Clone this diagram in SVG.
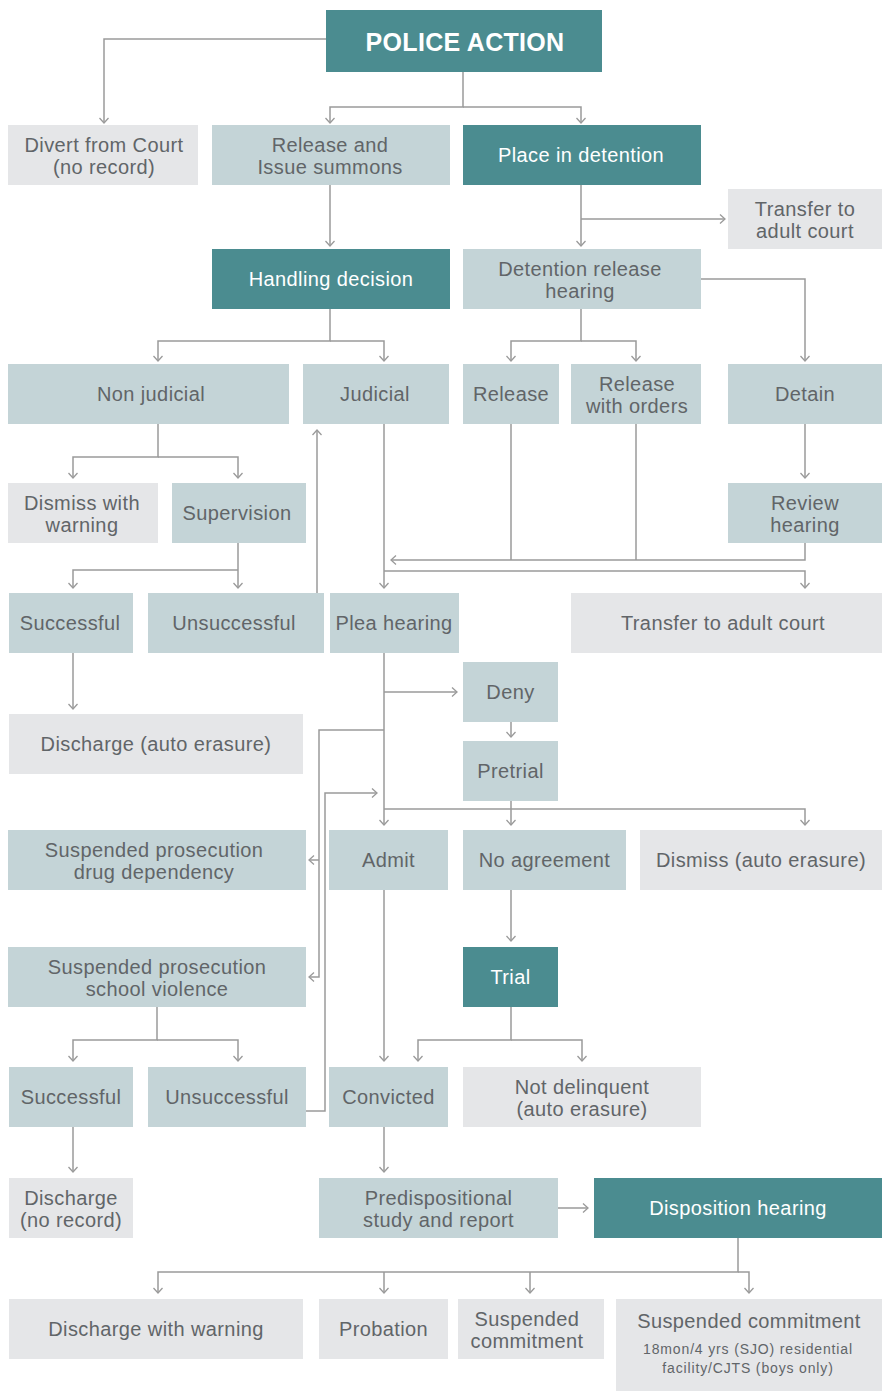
<svg xmlns="http://www.w3.org/2000/svg" width="884" height="1394" viewBox="0 0 884 1394">
<style>
.teal{fill:#4b8c90}
.blue{fill:#c4d4d7}
.gray{fill:#e5e6e8}
text{font-family:"Liberation Sans",Arial,sans-serif;font-size:20px;letter-spacing:0.4px;text-anchor:middle}
.t{fill:#616568}
.w{fill:#ffffff}
.title{font-weight:bold;font-size:25px;letter-spacing:0.3px}
.small{font-size:14px;letter-spacing:0.85px}
.c path{fill:none;stroke:#9a9a9a;stroke-width:1.5}
</style>
<defs>
<marker id="a" viewBox="0 0 10 10" refX="9" refY="5" markerWidth="10" markerHeight="10" markerUnits="userSpaceOnUse" orient="auto">
<path d="M4,0.5 L9,5 L4,9.5" fill="none" stroke="#9a9a9a" stroke-width="1.3"/>
</marker>
</defs>
<rect width="884" height="1394" fill="#ffffff"/>

<g class="c" id="connectors">
<path d="M326,39 H104 V123" marker-end="url(#a)"/>
<path d="M463,72 V107 H330 V123" marker-end="url(#a)"/>
<path d="M463,107 H581 V123" marker-end="url(#a)"/>
<path d="M330,185 V246" marker-end="url(#a)"/>
<path d="M581,185 V246" marker-end="url(#a)"/>
<path d="M581,219 H725" marker-end="url(#a)"/>
<path d="M701,279 H805 V361" marker-end="url(#a)"/>
<path d="M581,309 V341 H511 V361" marker-end="url(#a)"/>
<path d="M581,341 H636 V361" marker-end="url(#a)"/>
<path d="M330,309 V341 H158 V361" marker-end="url(#a)"/>
<path d="M330,341 H384 V361" marker-end="url(#a)"/>
<path d="M158,424 V457 H73 V478" marker-end="url(#a)"/>
<path d="M158,457 H238 V478" marker-end="url(#a)"/>
<path d="M238,543 V588" marker-end="url(#a)"/>
<path d="M238,570 H73 V588" marker-end="url(#a)"/>
<path d="M317,593 V430" marker-end="url(#a)"/>
<path d="M384,424 V588" marker-end="url(#a)"/>
<path d="M511,424 V560"/>
<path d="M636,424 V560"/>
<path d="M805,543 V560 H391" marker-end="url(#a)"/>
<path d="M384,571 H805 V588" marker-end="url(#a)"/>
<path d="M805,424 V478" marker-end="url(#a)"/>
<path d="M73,653 V709" marker-end="url(#a)"/>
<path d="M384,653 V825" marker-end="url(#a)"/>
<path d="M384,692 H457" marker-end="url(#a)"/>
<path d="M384,730 H319 V977 H309" marker-end="url(#a)"/>
<path d="M319,860 H309" marker-end="url(#a)"/>
<path d="M306,1111 H325 V793 H377" marker-end="url(#a)"/>
<path d="M384,809 H805 V825" marker-end="url(#a)"/>
<path d="M511,801 V825" marker-end="url(#a)"/>
<path d="M511,722 V737" marker-end="url(#a)"/>
<path d="M384,890 V1061" marker-end="url(#a)"/>
<path d="M511,890 V941" marker-end="url(#a)"/>
<path d="M511,1007 V1040 H418 V1061" marker-end="url(#a)"/>
<path d="M511,1040 H582 V1061" marker-end="url(#a)"/>
<path d="M157,1007 V1040 H73 V1061" marker-end="url(#a)"/>
<path d="M157,1040 H238 V1061" marker-end="url(#a)"/>
<path d="M73,1127 V1172" marker-end="url(#a)"/>
<path d="M384,1127 V1172" marker-end="url(#a)"/>
<path d="M558,1208 H588" marker-end="url(#a)"/>
<path d="M738,1238 V1272 H158 V1293" marker-end="url(#a)"/>
<path d="M738,1272 H749 V1293" marker-end="url(#a)"/>
<path d="M384,1272 V1293" marker-end="url(#a)"/>
<path d="M530,1272 V1293" marker-end="url(#a)"/>
</g>

<g id="police-action"><rect class="teal" x="326" y="10" width="276" height="62"/><text class="w title" x="465" y="51">POLICE ACTION</text></g>
<g id="divert"><rect class="gray" x="8" y="125" width="190" height="60"/><text class="t" x="104" y="151.5">Divert from Court<tspan x="104" dy="22">(no record)</tspan></text></g>
<g id="release-summons"><rect class="blue" x="212" y="125" width="238" height="60"/><text class="t" x="330" y="151.5">Release and<tspan x="330" dy="22">Issue summons</tspan></text></g>
<g id="place-detention"><rect class="teal" x="463" y="125" width="238" height="60"/><text class="w" x="581" y="162">Place in detention</text></g>
<g id="transfer-top"><rect class="gray" x="728" y="189" width="154" height="60"/><text class="t" x="805" y="215.5">Transfer to<tspan x="805" dy="22">adult court</tspan></text></g>
<g id="handling"><rect class="teal" x="212" y="249" width="238" height="60"/><text class="w" x="331" y="286">Handling decision</text></g>
<g id="detention-release-hearing"><rect class="blue" x="463" y="249" width="238" height="60"/><text class="t" x="580" y="275.5">Detention release<tspan x="580" dy="22">hearing</tspan></text></g>
<g id="non-judicial"><rect class="blue" x="8" y="364" width="281" height="60"/><text class="t" x="151" y="401">Non judicial</text></g>
<g id="judicial"><rect class="blue" x="303" y="364" width="146" height="60"/><text class="t" x="375" y="401">Judicial</text></g>
<g id="release"><rect class="blue" x="463" y="364" width="96" height="60"/><text class="t" x="511" y="401">Release</text></g>
<g id="release-orders"><rect class="blue" x="571" y="364" width="130" height="60"/><text class="t" x="637" y="390.5">Release<tspan x="637" dy="22">with orders</tspan></text></g>
<g id="detain"><rect class="blue" x="728" y="364" width="154" height="60"/><text class="t" x="805" y="401">Detain</text></g>
<g id="dismiss-warning"><rect class="gray" x="8" y="483" width="150" height="60"/><text class="t" x="82" y="509.5">Dismiss with<tspan x="82" dy="22">warning</tspan></text></g>
<g id="supervision"><rect class="blue" x="172" y="483" width="134" height="60"/><text class="t" x="237" y="520">Supervision</text></g>
<g id="review-hearing"><rect class="blue" x="728" y="483" width="154" height="60"/><text class="t" x="805" y="509.5">Review<tspan x="805" dy="22">hearing</tspan></text></g>
<g id="successful-1"><rect class="blue" x="9" y="593" width="124" height="60"/><text class="t" x="70" y="630">Successful</text></g>
<g id="unsuccessful-1"><rect class="blue" x="148" y="593" width="176" height="60"/><text class="t" x="234" y="630">Unsuccessful</text></g>
<g id="plea-hearing"><rect class="blue" x="330" y="593" width="129" height="60"/><text class="t" x="394" y="630">Plea hearing</text></g>
<g id="transfer-adult"><rect class="gray" x="571" y="593" width="311" height="60"/><text class="t" x="723" y="630">Transfer to adult court</text></g>
<g id="deny"><rect class="blue" x="463" y="662" width="95" height="60"/><text class="t" x="510.5" y="699">Deny</text></g>
<g id="discharge-auto"><rect class="gray" x="9" y="714" width="294" height="60"/><text class="t" x="156" y="751">Discharge (auto erasure)</text></g>
<g id="pretrial"><rect class="blue" x="463" y="741" width="95" height="60"/><text class="t" x="510.5" y="778">Pretrial</text></g>
<g id="susp-drug"><rect class="blue" x="8" y="830" width="298" height="60"/><text class="t" x="154" y="856.5">Suspended prosecution<tspan x="154" dy="22">drug dependency</tspan></text></g>
<g id="admit"><rect class="blue" x="329" y="830" width="119" height="60"/><text class="t" x="388.5" y="867">Admit</text></g>
<g id="no-agreement"><rect class="blue" x="463" y="830" width="163" height="60"/><text class="t" x="544.5" y="867">No agreement</text></g>
<g id="dismiss-auto"><rect class="gray" x="640" y="830" width="242" height="60"/><text class="t" x="761" y="867">Dismiss (auto erasure)</text></g>
<g id="susp-school"><rect class="blue" x="8" y="947" width="298" height="60"/><text class="t" x="157" y="973.5">Suspended prosecution<tspan x="157" dy="22">school violence</tspan></text></g>
<g id="trial"><rect class="teal" x="463" y="947" width="95" height="60"/><text class="w" x="510.5" y="984">Trial</text></g>
<g id="successful-2"><rect class="blue" x="9" y="1067" width="124" height="60"/><text class="t" x="71" y="1104">Successful</text></g>
<g id="unsuccessful-2"><rect class="blue" x="148" y="1067" width="158" height="60"/><text class="t" x="227" y="1104">Unsuccessful</text></g>
<g id="convicted"><rect class="blue" x="329" y="1067" width="119" height="60"/><text class="t" x="388.5" y="1104">Convicted</text></g>
<g id="not-delinquent"><rect class="gray" x="463" y="1067" width="238" height="60"/><text class="t" x="582" y="1093.5">Not delinquent<tspan x="582" dy="22">(auto erasure)</tspan></text></g>
<g id="discharge-no-record"><rect class="gray" x="9" y="1178" width="124" height="60"/><text class="t" x="71" y="1204.5">Discharge<tspan x="71" dy="22">(no record)</tspan></text></g>
<g id="predispositional"><rect class="blue" x="319" y="1178" width="239" height="60"/><text class="t" x="438.5" y="1204.5">Predispositional<tspan x="438.5" dy="22">study and report</tspan></text></g>
<g id="disposition-hearing"><rect class="teal" x="594" y="1178" width="288" height="60"/><text class="w" x="738" y="1215">Disposition hearing</text></g>
<g id="discharge-warning"><rect class="gray" x="9" y="1299" width="294" height="60"/><text class="t" x="156" y="1336">Discharge with warning</text></g>
<g id="probation"><rect class="gray" x="319" y="1299" width="129" height="60"/><text class="t" x="383.5" y="1336">Probation</text></g>
<g id="susp-commitment"><rect class="gray" x="458" y="1299" width="146" height="60"/><text class="t" x="527" y="1325.5">Suspended<tspan x="527" dy="22">commitment</tspan></text></g>
<g id="susp-commitment-detail"><rect class="gray" x="616" y="1299" width="266" height="92"/><text class="t" x="749" y="1328">Suspended commitment</text><text class="t small" x="748" y="1354">18mon/4 yrs (SJO) residential<tspan x="748" dy="19">facility/CJTS (boys only)</tspan></text></g>
</svg>
